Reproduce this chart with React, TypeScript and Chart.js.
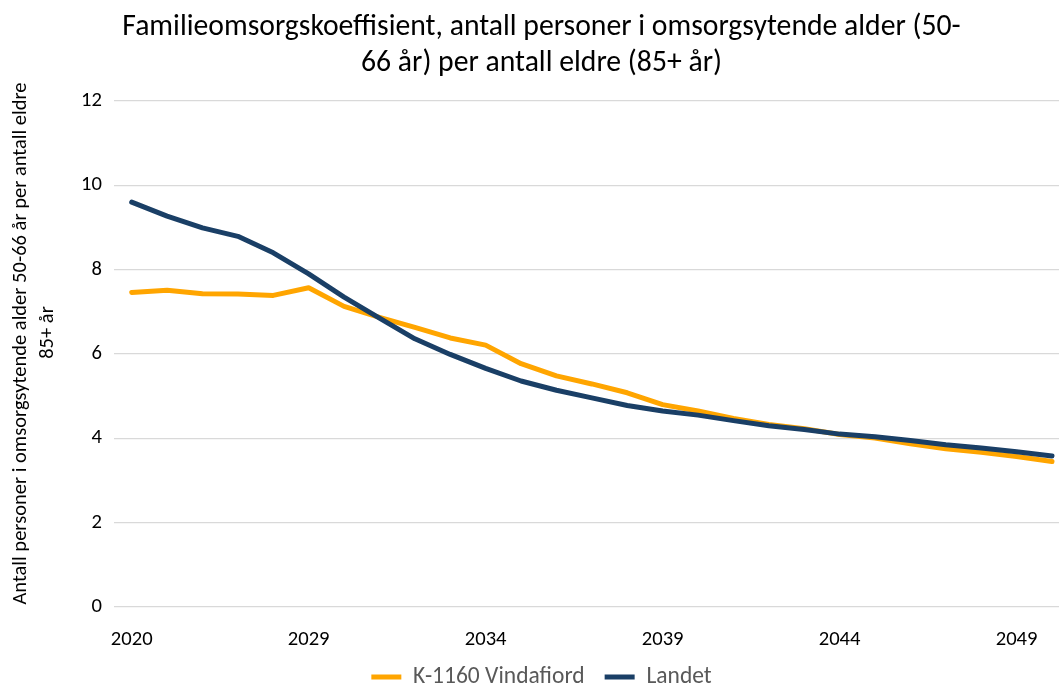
import React, { useEffect, useRef } from "react";
import { Chart, registerables } from "chart.js";

Chart.register(...registerables);

const years: string[] = [
  "2020", "2025", "2026", "2027", "2028", "2029", "2030", "2031", "2032",
  "2033", "2034", "2035", "2036", "2037", "2038", "2039", "2040", "2041",
  "2042", "2043", "2044", "2045", "2046", "2047", "2048", "2049", "2050",
];

const vindafjord: number[] = [
  7.46, 7.51, 7.43, 7.42, 7.39, 7.57, 7.13, 6.87, 6.63, 6.38, 6.21, 5.77,
  5.48, 5.29, 5.08, 4.8, 4.65, 4.47, 4.33, 4.23, 4.09, 4.01, 3.87, 3.75,
  3.67, 3.57, 3.45,
];

const landet: number[] = [
  9.6, 9.27, 8.99, 8.79, 8.4, 7.9, 7.35, 6.85, 6.36, 5.99, 5.66, 5.36,
  5.14, 4.96, 4.78, 4.65, 4.55, 4.42, 4.3, 4.21, 4.1, 4.04, 3.95, 3.85,
  3.77, 3.68, 3.58,
];

const titleLines: string[] = [
  "Familieomsorgskoeffisient, antall personer i omsorgsytende alder (50-",
  "66 år) per antall eldre (85+ år)",
];

const yTitleLines: string[] = [
  "Antall personer i omsorgsytende alder 50-66 år per antall eldre",
  "85+ år",
];

const seriesNames: string[] = ["K-1160 Vindafjord", "Landet"];

const FONT = "Carlito, Calibri, Lato, sans-serif";

const yTitlePlugin = {
  id: "yTitleRotated",
  afterDraw(chart: any) {
    const ctx = chart.ctx as CanvasRenderingContext2D;
    const area = chart.chartArea;
    const mid = (area.top + area.bottom) / 2;
    const xs = [20.5, 48];
    const ys = [mid - 10.5, mid - 21.5];
    ctx.save();
    ctx.font = `20.5px ${FONT}`;
    ctx.fillStyle = "#000000";
    ctx.textAlign = "center";
    ctx.textBaseline = "middle";
    yTitleLines.forEach((t, i) => {
      ctx.save();
      ctx.translate(xs[i], ys[i]);
      ctx.rotate(-Math.PI / 2);
      ctx.fillText(t, 0, 0);
      ctx.restore();
    });
    ctx.restore();
  },
};

export default function App() {
  const ref = useRef<HTMLCanvasElement | null>(null);

  useEffect(() => {
    if (!ref.current) return;
    const chart = new Chart(ref.current, {
      type: "line",
      data: {
        labels: years,
        datasets: [
          {
            label: seriesNames[0],
            data: vindafjord,
            borderColor: "#FFA500",
            backgroundColor: "#FFA500",
            borderWidth: 5,
            pointRadius: 0,
            borderCapStyle: "round",
            borderJoinStyle: "round",
            tension: 0,
            order: 1,
          },
          {
            label: seriesNames[1],
            data: landet,
            borderColor: "#1A3F66",
            backgroundColor: "#1A3F66",
            borderWidth: 5,
            pointRadius: 0,
            borderCapStyle: "round",
            borderJoinStyle: "round",
            tension: 0,
            order: 0,
          },
        ],
      },
      options: {
        responsive: false,
        animation: false,
        layout: { padding: { left: 13.3, right: 13.3, top: 0, bottom: 5.25 } },
        plugins: {
          tooltip: { enabled: false },
          title: {
            display: true,
            text: titleLines,
            color: "#000000",
            font: { family: FONT, size: 29.7, weight: "normal", lineHeight: "36px" },
            padding: { top: 9.5, bottom: 19.5 },
          },
          legend: {
            position: "bottom",
            labels: {
              sort: (a: any, b: any) => a.datasetIndex - b.datasetIndex,
              usePointStyle: true,
              pointStyle: "line",
              pointStyleWidth: 30,
              color: "#595959",
              font: { family: FONT, size: 23.5 },
              padding: 20,
            },
          },
        },
        scales: {
          x: {
            type: "category",
            offset: true,
            grid: { display: false },
            border: { display: false },
            afterFit: (scale: any) => {
              scale.height = 38.25;
            },
            ticks: {
              autoSkip: false,
              maxRotation: 0,
              minRotation: 0,
              padding: 12,
              color: "#000000",
              font: { family: FONT, size: 20.6 },
              callback: function (_v: any, i: number) {
                return i % 5 === 0 ? years[i] : "";
              },
            },
          },
          y: {
            min: 0,
            max: 12,
            afterFit: (scale: any) => {
              scale.width = 114 - 13.3;
            },
            grid: { color: "#D9D9D9", lineWidth: 1.3, drawTicks: false },
            border: { display: false },
            ticks: {
              stepSize: 2,
              padding: 12,
              color: "#000000",
              font: { family: FONT, size: 20.6 },
            },
          },
        },
      },
      plugins: [yTitlePlugin],
    });
    return () => chart.destroy();
  }, []);

  return (
    <div
      style={{
        position: "absolute",
        left: 0,
        top: 0,
        width: 1059,
        height: 683,
        overflow: "hidden",
        background: "#ffffff",
      }}
    >
      <canvas ref={ref} width={1083} height={704} style={{ display: "block" }} />
    </div>
  );
}
